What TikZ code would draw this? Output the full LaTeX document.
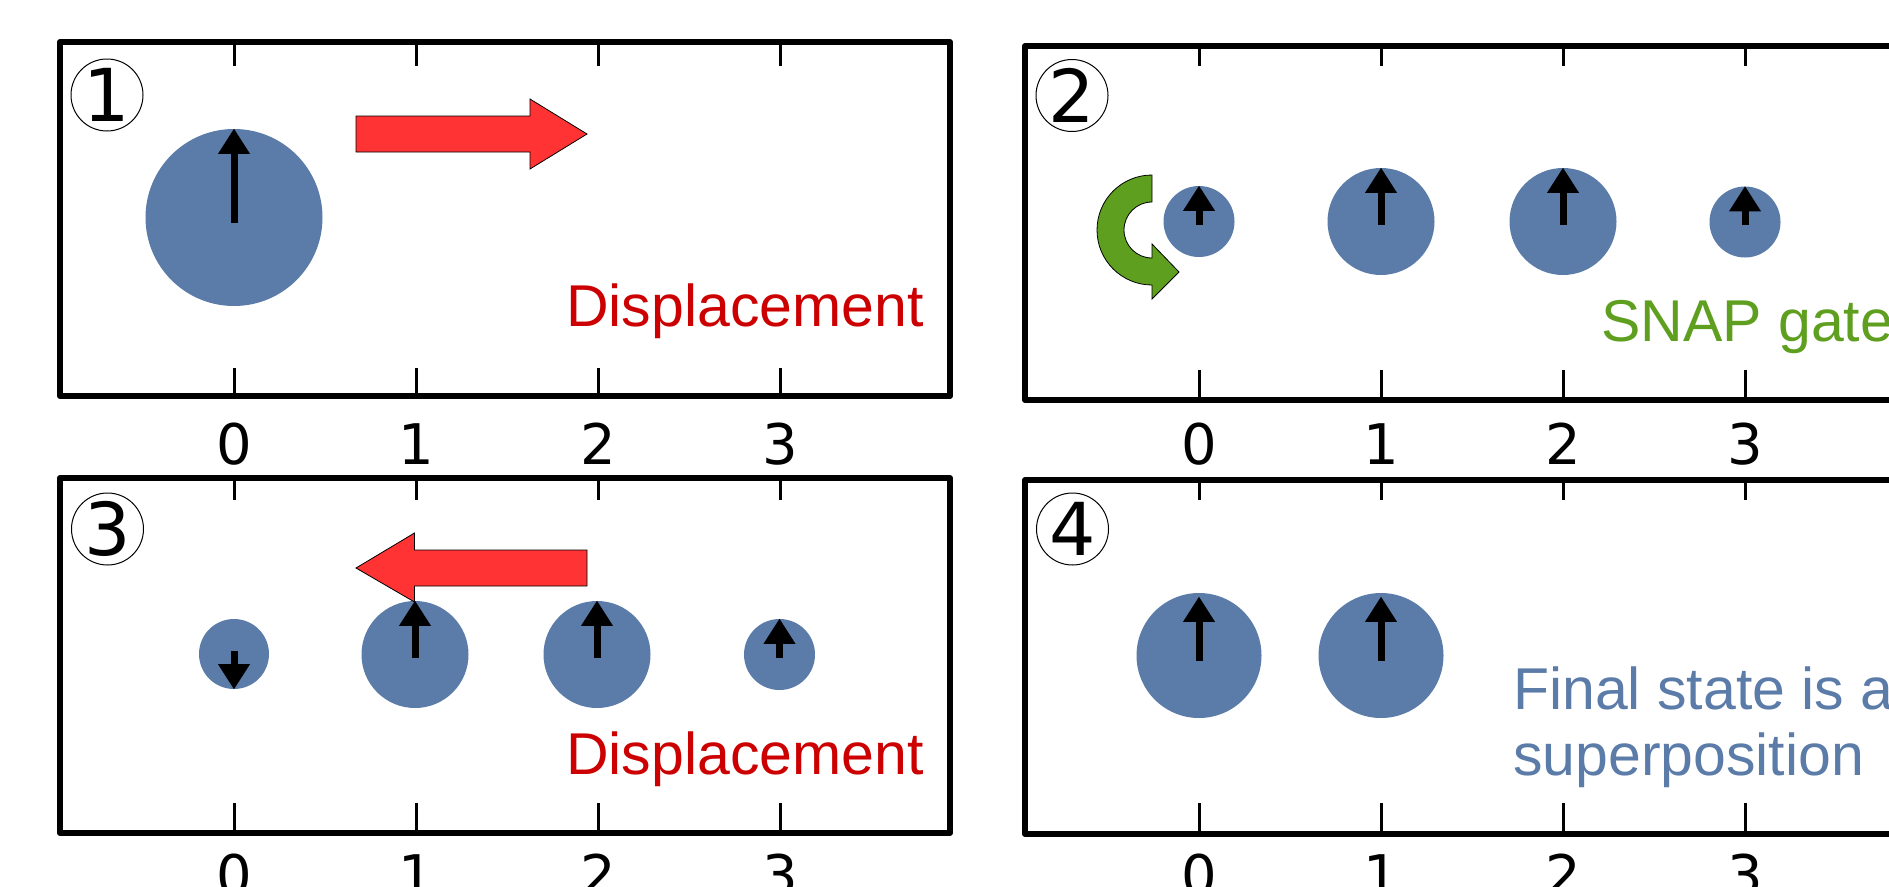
\documentclass[tikz,border=0pt]{standalone}
\usepackage{fontspec}
\setmainfont{Liberation Sans}
\newfontfamily\dvs{DejaVu Sans}
\usetikzlibrary{arrows.meta,calc}
\definecolor{blobblue}{HTML}{5B7BA8}
\definecolor{shiftred}{HTML}{FF3333}
\definecolor{labelred}{HTML}{CC0000}
\definecolor{snapgreen}{HTML}{5F9F20}
\begin{document}
\begin{tikzpicture}[x=1pt,y=-1pt,
  frame/.style={line width=6pt, line join=round},
  tick/.style={line width=3pt},
  blob/.style={circle, fill=blobblue, inner sep=0pt, draw=none},
  spin/.style={line width=7pt, -{Triangle[length=25pt,width=32pt,line width=0pt]}},
  stepring/.style={circle, draw, line width=1pt, minimum size=72pt, inner sep=0pt},
  stepdigit/.style={inner sep=0pt, font=\dvs\fontsize{73}{73}\selectfont},
  axislabel/.style={inner sep=0pt, font=\dvs\fontsize{56}{56}\selectfont},
  caption/.style={anchor=base west, inner sep=0pt, font=\fontsize{59}{70}\selectfont},
  block/.style={line width=0.8pt, draw=black, line join=miter}
]
\useasboundingbox (0,0) rectangle (1889,886);
\clip (0,0) rectangle (1889,886);

% ---------- panel 1 ----------
\foreach \x/\n in {234/0,416/1,598/2,780/3}{
  \draw[tick] (\x,42) -- (\x,66);
  \draw[tick] (\x,368) -- (\x,396);
  \node[axislabel] (p1l\n) at (\x,444) {\n};
}
\draw[frame] (60,42) rectangle (950,396);
\node[stepring] (s1) at (107,95) {};
\node[stepdigit] at (s1.center) {1};
\node[blob, minimum size=177pt] (b1a) at (234,217.5) {};
\draw[spin] ($(b1a.center)+(0,5)$) -- (b1a.north);
\fill[shiftred, block] (356,116) -- (530,116) -- (530,99) -- (587,134)
  -- (530,169) -- (530,152) -- (356,152) -- cycle;
\node[caption, text=labelred] (c1) at (566,326) {Displacement};

% ---------- panel 2 ----------
\foreach \x/\n in {1199/0,1381/1,1563/2,1745/3}{
  \draw[tick] (\x,46) -- (\x,66);
  \draw[tick] (\x,370) -- (\x,400);
  \node[axislabel] (p2l\n) at (\x,444) {\n};
}
\draw[frame] (1025,46) rectangle (1915,400);
\node[stepring] (s2) at (1072,95.5) {};
\node[stepdigit] at (s2.center) {2};
\node[blob, minimum size=71pt]  (b2a) at (1199,221.5) {};
\node[blob, minimum size=107pt] (b2b) at (1381,221.5) {};
\node[blob, minimum size=107pt] (b2c) at (1563,221.5) {};
\node[blob, minimum size=71pt]  (b2d) at (1745,222) {};
\foreach \b in {b2a,b2b,b2c,b2d}
  \draw[spin] ($(\b.center)+(0,3)$) -- (\b.north);
% curved rotation arrow (y axis points down here, so 270 is up)
\fill[snapgreen, block] (1152,175) -- (1152,202)
  arc[start angle=270, end angle=90, radius=28]
  -- (1152,244) -- (1179,272) -- (1152,299) -- (1152,285)
  arc[start angle=90, end angle=270, radius=55] -- cycle;
\node[caption, text=snapgreen] (c2) at (1601,341) {SNAP gate};

% ---------- panel 3 ----------
\foreach \x/\n in {234/0,416/1,598/2,780/3}{
  \draw[tick] (\x,478) -- (\x,500);
  \draw[tick] (\x,803) -- (\x,833);
  \node[axislabel] (p3l\n) at (\x,875) {\n};
}
\draw[frame] (60,478) rectangle (950,833);
\node[stepring] (s3) at (107.5,529) {};
\node[stepdigit] at (s3.center) {3};
\node[blob, minimum size=70pt]  (b3a) at (234,654) {};
\node[blob, minimum size=107pt] (b3b) at (415,654.5) {};
\node[blob, minimum size=107pt] (b3c) at (597,654.5) {};
\node[blob, minimum size=71pt]  (b3d) at (779.5,654.5) {};
\draw[spin] ($(b3a.center)+(0,-3)$) -- (b3a.south);
\foreach \b in {b3b,b3c,b3d}
  \draw[spin] ($(\b.center)+(0,3)$) -- (\b.north);
\fill[shiftred, block] (587,550) -- (414.5,550) -- (414.5,533) -- (356,568)
  -- (414.5,602) -- (414.5,586) -- (587,586) -- cycle;
\node[caption, text=labelred] (c3) at (566,774) {Displacement};

% ---------- panel 4 ----------
\foreach \x/\n in {1199/0,1381/1,1563/2,1745/3}{
  \draw[tick] (\x,480) -- (\x,500);
  \draw[tick] (\x,803) -- (\x,834);
  \node[axislabel] (p4l\n) at (\x,875) {\n};
}
\draw[frame] (1025,480) rectangle (1915,834);
\node[stepring] (s4) at (1072.5,529) {};
\node[stepdigit] at (s4.center) {4};
\node[blob, minimum size=125pt] (b4a) at (1199,655.5) {};
\node[blob, minimum size=125pt] (b4b) at (1381,655.5) {};
\foreach \b in {b4a,b4b}
  \draw[spin] ($(\b.center)+(0,5)$) -- ($(\b.north)+(0,4)$);
\node[caption, text=blobblue] (c4a) at (1513,709) {Final state is a};
\node[caption, text=blobblue] (c4b) at (1513,775) {superposition};
\end{tikzpicture}
\end{document}
